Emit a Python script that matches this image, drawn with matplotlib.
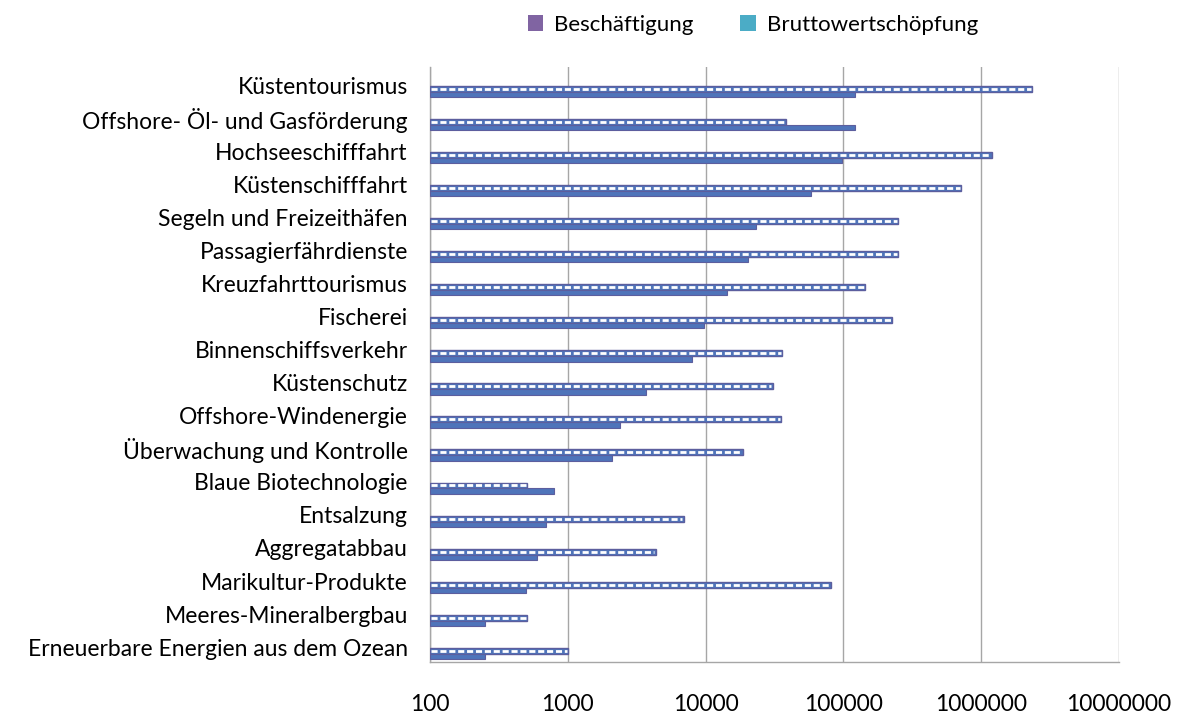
import numpy as np
import matplotlib.pyplot as plt
from matplotlib.patches import Patch

plt.rcParams['font.family'] = ['Lato', 'DejaVu Sans']

# Data (log scale)
sectors = [
    "Küstentourismus",
    "Offshore- Öl- und Gasförderung",
    "Hochseeschifffahrt",
    "Küstenschifffahrt",
    "Segeln und Freizeithäfen",
    "Passagierfährdienste",
    "Kreuzfahrttourismus",
    "Fischerei",
    "Binnenschiffsverkehr",
    "Küstenschutz",
    "Offshore-Windenergie",
    "Überwachung und Kontrolle",
    "Blaue Biotechnologie",
    "Entsalzung",
    "Aggregatabbau",
    "Marikultur-Produkte",
    "Meeres-Mineralbergbau",
    "Erneuerbare Energien aus dem Ozean",
]
beschaeftigung = [122000, 122000, 98000, 58000, 23400, 20200, 14200, 9800,
                  8000, 3700, 2400, 2100, 790, 690, 600, 500, 250, 250]
bruttowertschoepfung = [2340000, 38600, 1200000, 716000, 250000, 250000, 144000,
                        226000, 36100, 30600, 35500, 18800, 505, 6930, 4340,
                        81900, 505, 1000]

base = 100
bar_blue = "#4F74BA"
edge_col = "#5C5E9E"

fig = plt.figure(figsize=(11.85, 7.15), dpi=100)
ax = fig.add_axes([0.3629, 0.0741, 0.5814, 0.8322])

y = np.arange(len(sectors))
w_bws = np.array(bruttowertschoepfung) - base
w_bes = np.array(beschaeftigung) - base

# Bruttowertschoepfung: blue bar with a row of white dashes
ax.barh(y + 0.16, w_bws, left=base, height=0.18, color=bar_blue,
        edgecolor=edge_col, linewidth=1.0, zorder=3)
ax.hlines(y + 0.16, base * 1.02, np.array(bruttowertschoepfung) / 1.02,
          colors="white", linewidth=2.0, linestyles=(0, (2.2, 1.0)), zorder=4)

# Beschaeftigung: solid blue bar
ax.barh(y + 0.33, w_bes, left=base, height=0.16, color=bar_blue,
        edgecolor=edge_col, linewidth=0.8, zorder=3)

ax.set_xscale("log")
ax.set_xlim(100, 1e7)
ax.set_ylim(len(sectors) - 0.5, -0.5)

ticks = [100, 1000, 10000, 100000, 1000000, 10000000]
ax.set_xticks(ticks)
ax.set_xticklabels([str(t) for t in ticks], fontsize=16.5)
ax.xaxis.set_minor_locator(plt.NullLocator())
ax.set_yticks(y + 0.05)
ax.set_yticklabels(sectors, fontsize=16.5)
ax.tick_params(axis="x", length=0, pad=23)
ax.tick_params(axis="y", length=0, pad=16)

ax.grid(axis="x", color="#A6A6A6", linewidth=1.0, zorder=0)
for side in ["top", "right"]:
    ax.spines[side].set_visible(False)
for side in ["left", "bottom"]:
    ax.spines[side].set_color("#A6A6A6")
    ax.spines[side].set_linewidth(1.0)

handles = [Patch(facecolor="#8064A2", label="Beschäftigung"),
           Patch(facecolor="#4BACC6", label="Bruttowertschöpfung")]
fig.legend(handles=handles, loc="center", bbox_to_anchor=(0.6355, 0.965),
           ncol=2, frameon=False, fontsize=16, handlelength=0.7,
           handleheight=0.7, handletextpad=0.5, columnspacing=2.1)

fig.savefig("out.png", dpi=100)
